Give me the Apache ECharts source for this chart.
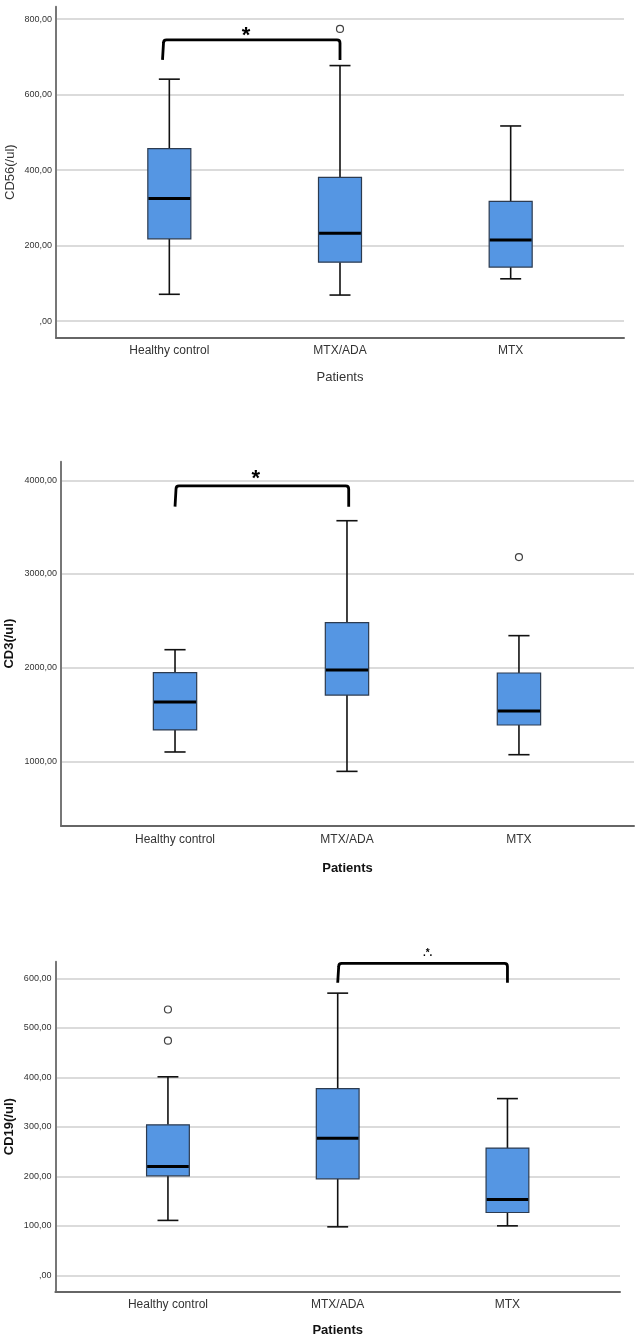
<!DOCTYPE html>
<html>
<head>
<meta charset="utf-8">
<script src="https://cdn.jsdelivr.net/npm/echarts@6/dist/echarts.min.js"></script>
<style>
html, body {margin:0; padding:0; background:#fff;}
#chart {width:636px; height:1339px;}
</style>
</head>
<body>
<div id="chart"></div>
<script>
var categories = ['Healthy control', 'MTX/ADA', 'MTX'];

// [low whisker, Q1, median, Q3, high whisker]
var cd56Box = [[71, 218, 325, 457, 641], [69, 156, 233, 381, 677], [112, 143, 215, 317, 517]];
var cd56Outliers = [[1, 774]];
var cd56Ticks = [0, 200, 400, 600, 800];
var cd56Sig = [[-0.04, 1.0, 692, 745, 0.45, 755]];
var cd56SigText = ['*'];

var cd3Box = [[1100, 1335, 1633, 1947, 2192], [893, 1708, 1975, 2480, 3569], [1071, 1388, 1537, 1943, 2342]];
var cd3Outliers = [[2, 3181]];
var cd3Ticks = [1000, 2000, 3000, 4000];
var cd3Sig = [[0.0, 1.01, 3719, 3940, 0.47, 4010]];
var cd3SigText = ['*'];

var cd19Box = [[111, 201, 220, 304, 401], [98, 195, 277, 377, 570], [100, 127, 153, 257, 357]];
var cd19Outliers = [[0, 537], [0, 474]];
var cd19Ticks = [0, 100, 200, 300, 400, 500, 600];
var cd19Sig = [[1.0, 2.0, 591, 630, 1.53, 651]];
var cd19SigText = ['.*.'];

var FONT = "'Liberation Sans', Arial, sans-serif";

function boxRows(box){
    var rows = [];
    for(var i=0; i<box.length; i++){
        rows.push([i].concat(box[i]));
    }
    return rows;
}

function renderBox(params, api){
    var x = api.value(0);
    var lo = api.coord([x, api.value(1)]);
    var q1 = api.coord([x, api.value(2)]);
    var md = api.coord([x, api.value(3)]);
    var q3 = api.coord([x, api.value(4)]);
    var hi = api.coord([x, api.value(5)]);
    var unit = api.size([1, 0])[0];
    var bw = unit * 0.252, cw = unit * 0.123;
    var line = {stroke:'#111', lineWidth:1.6};
    return {type:'group', children:[
        {type:'line', shape:{x1:hi[0], y1:hi[1], x2:q3[0], y2:q3[1]}, style:line},
        {type:'line', shape:{x1:lo[0], y1:lo[1], x2:q1[0], y2:q1[1]}, style:line},
        {type:'line', shape:{x1:hi[0]-cw/2, y1:hi[1], x2:hi[0]+cw/2, y2:hi[1]}, style:line},
        {type:'line', shape:{x1:lo[0]-cw/2, y1:lo[1], x2:lo[0]+cw/2, y2:lo[1]}, style:line},
        {type:'rect', shape:{x:q3[0]-bw/2, y:q3[1], width:bw, height:q1[1]-q3[1]},
            style:{fill:'#5596e3', stroke:'#2c3b50', lineWidth:1.2}},
        {type:'line', shape:{x1:md[0]-bw/2+0.6, y1:md[1], x2:md[0]+bw/2-0.6, y2:md[1]},
            style:{stroke:'#000', lineWidth:3}}
    ]};
}

function makeRenderSig(texts, size){
    return function(params, api){
        var a = api.coord([api.value(0), api.value(2)]);
        var b = api.coord([api.value(1), api.value(3)]);
        var c = api.coord([api.value(1), api.value(2)]);
        var s = api.coord([api.value(4), api.value(5)]);
        var r = 3;
        var d = 'M' + a[0] + ' ' + a[1] + ' L' + (a[0]+1) + ' ' + (b[1]+r) +
            ' Q' + (a[0]+1) + ' ' + b[1] + ' ' + (a[0]+1+r) + ' ' + b[1] +
            ' L' + (c[0]-r) + ' ' + b[1] +
            ' Q' + c[0] + ' ' + b[1] + ' ' + c[0] + ' ' + (b[1]+r) +
            ' L' + c[0] + ' ' + c[1];
        return {type:'group', children:[
            {type:'path', shape:{pathData:d}, style:{fill:null, stroke:'#000', lineWidth:2.8, lineJoin:'round'}},
            {type:'text', x:s[0], y:s[1], style:{text:texts[params.dataIndex], fill:'#000',
                font:'bold ' + size + 'px ' + FONT, align:'center', verticalAlign:'middle'}}
        ]};
    };
}

function yLabel(v){
    return (v === 0 ? '' : v) + ',00';
}

var panels = [
    {grid:{left:56, top:6.7, width:568, height:331}, xMin:-0.664, xMax:2.664, yMin:-44, yMax:833,
     ticks:cd56Ticks, box:cd56Box, out:cd56Outliers, sig:cd56Sig, sigText:cd56SigText, sigSize:22,
     yName:'CD56(/ul)', bold:'normal', nameColor:'#333', yGap:39, xGap:33, labelMargin:7},
    {grid:{left:61, top:461.7, width:573, height:364}, xMin:-0.663, xMax:2.669, yMin:313, yMax:4199,
     ticks:cd3Ticks, box:cd3Box, out:cd3Outliers, sig:cd3Sig, sigText:cd3SigText, sigSize:22,
     yName:'CD3(/ul)', bold:'bold', nameColor:'#111', yGap:45, xGap:36, labelMargin:7.5},
    {grid:{left:55.4, top:961.7, width:564.6, height:330}, xMin:-0.663, xMax:2.663, yMin:-33, yMax:633.5,
     ticks:cd19Ticks, box:cd19Box, out:cd19Outliers, sig:cd19Sig, sigText:cd19SigText, sigSize:10,
     yName:'CD19(/ul)', bold:'bold', nameColor:'#111', yGap:39, xGap:32, labelMargin:6.5}
];

var option = {animation:false, backgroundColor:'#fff', grid:[], xAxis:[], yAxis:[], series:[]};

for(var i=0; i<panels.length; i++){
    var p = panels[i];
    var g = p.grid;
    g.containLabel = false;
    g.outerBoundsMode = 'none';
    option.grid.push(g);
    option.xAxis.push({
        type:'value', gridIndex:i, min:p.xMin, max:p.xMax,
        name:'Patients', nameLocation:'middle', nameGap:p.xGap, nameMoveOverlap:false,
        nameTextStyle:{fontFamily:FONT, fontSize:13, color:p.nameColor, fontWeight:p.bold},
        axisLine:{show:true, onZero:false, lineStyle:{color:'#666', width:2}},
        axisTick:{show:false},
        splitLine:{show:false},
        axisLabel:{customValues:[0, 1, 2], margin:p.labelMargin, fontFamily:FONT, fontSize:12, color:'#333',
            formatter:function(v){return categories[Math.round(v)];}}
    });
    option.yAxis.push({
        type:'value', gridIndex:i, min:p.yMin, max:p.yMax,
        name:p.yName, nameLocation:'middle', nameGap:p.yGap, nameMoveOverlap:false,
        nameTextStyle:{fontFamily:FONT, fontSize:13, color:p.nameColor, fontWeight:p.bold},
        axisLine:{show:true, onZero:false, lineStyle:{color:'#777', width:2}},
        axisTick:{show:false, customValues:p.ticks},
        splitLine:{show:true, lineStyle:{color:'#cfcfcf', width:1.5}},
        axisLabel:{customValues:p.ticks, margin:4, fontFamily:FONT, fontSize:9, color:'#333', formatter:yLabel}
    });
    option.series.push({
        type:'custom', xAxisIndex:i, yAxisIndex:i, renderItem:renderBox,
        encode:{x:0, y:[1, 2, 3, 4, 5]}, data:boxRows(p.box), z:3
    });
    option.series.push({
        type:'scatter', xAxisIndex:i, yAxisIndex:i, data:p.out, symbol:'circle', symbolSize:7,
        itemStyle:{color:'#fff', borderColor:'#111', borderWidth:1.2}, z:4
    });
    option.series.push({
        type:'custom', xAxisIndex:i, yAxisIndex:i, renderItem:makeRenderSig(p.sigText, p.sigSize),
        encode:{x:[0, 1, 4], y:[2, 3, 5]}, data:p.sig, z:5, clip:false
    });
}

var myChart = echarts.init(document.getElementById('chart'));
myChart.setOption(option);
</script>
</body>
</html>
